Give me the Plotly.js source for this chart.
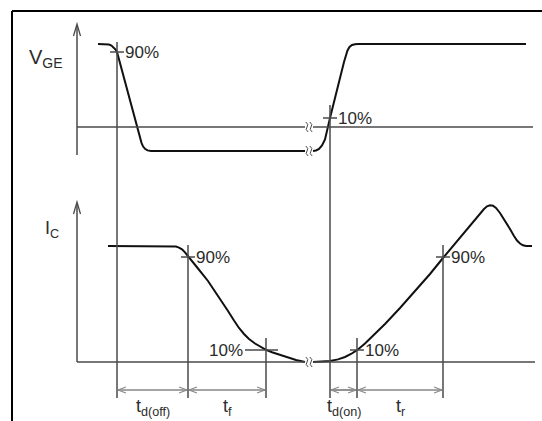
<!DOCTYPE html>
<html>
<head>
<meta charset="utf-8">
<script src="https://cdn.plot.ly/plotly-3.0.1.min.js"></script>
<style>html,body{margin:0;padding:0;background:#fff;}#chart{width:542px;height:421px;}</style>
</head>
<body>
<div id="chart"></div>
<script>
// ---- waveform data (diagram units, y grows downward) ----
const vgeOffX = [98, 106, 109, 111.5, 113.5, 115.3, 117, 138, 140, 141.5, 143, 145, 147.5, 151, 305];
const vgeOffY = [44, 44, 44.5, 45.5, 47.2, 49.3, 52, 130.5, 138, 142.8, 146.3, 148.8, 150.4, 151, 151];
const vgeOnX  = [313, 316, 319, 322, 325, 327.5, 330, 344, 346, 347.5, 349.5, 352, 355, 358, 526];
const vgeOnY  = [151, 150.5, 149, 145.5, 139.5, 130, 118, 62, 55, 50.5, 47, 45, 44.2, 44, 44];
const icOffX  = [108, 172, 176, 179, 182, 185, 188, 198, 208, 218, 228, 234, 239, 244, 249, 255, 261, 266, 272, 280, 288, 296, 305];
const icOffY  = [246, 246, 246.5, 247.6, 249.3, 252.4, 256.3, 268.5, 281, 295.5, 311, 320.5, 328, 334, 339, 343.5, 347, 349.8, 352.2, 355, 357.6, 360, 362];
const icOnX   = [313, 322, 330, 338, 345, 351, 357, 365, 375, 385, 400, 415, 430, 443, 458, 472, 480, 484, 487, 490, 493, 496, 500, 505, 510, 514, 517, 520, 523, 526, 532];
const icOnY   = [362, 361.8, 361, 359.4, 357, 354, 350.2, 343.5, 334, 324, 308, 291.5, 274, 258, 240, 223, 213.5, 209, 206.3, 205.2, 205.8, 208, 213, 220.5, 229, 236, 240.5, 243.5, 245.3, 246, 246];

// reference levels
const vgeLevels = [44, 127, 151];   // high, zero, low
const icLevels  = [246, 362];       // high, zero
const axisLeft  = 77;
const axisRightEnd = 533;
const breakX = [305, 313];

// measurement instants (vertical lines) and their percent marks
const instantX   = [117, 330, 188, 266, 357, 443];
const instantTop = [42, 105, 245, 338, 338, 245];
const pctText    = ['90%', '10%', '90%', '10%', '10%', '90%'];
const pctY       = [52, 118, 257, 350, 350, 257];
const pctSide    = ['right', 'right', 'right', 'left', 'right', 'right'];

// timing intervals
const dimStart  = [117, 188, 330, 357];
const dimEnd    = [188, 266, 357, 443];
const dimLabels = ['t<sub>d(off)</sub>', 't<sub>f</sub>', 't<sub>d(on)</sub>', 't<sub>r</sub>'];
const dimY = 390, instantBottom = 398, dimLabelY = 407;

// ---- build ----
const INK = '#111', GREY = '#4a4a4a', LIGHT = '#8a8a8a', TXT = '#2b2b2b';
const FONT = 'Liberation Sans, Arial, sans-serif';

function wave(x, y) {
  return {x: x, y: y, type: 'scatter', mode: 'lines', hoverinfo: 'skip',
          line: {color: INK, width: 2, shape: 'linear'}};
}
const traces = [wave(vgeOffX, vgeOffY), wave(vgeOnX, vgeOnY), wave(icOffX, icOffY), wave(icOnX, icOnY)];

const shapes = [];
function line(x0, y0, x1, y1, color, w) {
  shapes.push({type: 'line', xref: 'x', yref: 'y', x0: x0, y0: y0, x1: x1, y1: y1,
               line: {color: color, width: w}});
}
function path(d, color, w) {
  shapes.push({type: 'path', xref: 'x', yref: 'y', path: d, line: {color: color, width: w}});
}
// frame
line(12, 11, 542, 11, '#000', 2);
line(12, 11, 12, 421, '#000', 2);
// axes with arrows
line(axisLeft, 155, axisLeft, 25, GREY, 1.5);
path(`M${axisLeft-3.5},36 L${axisLeft},24 L${axisLeft+3.5},36`, GREY, 1.3);
line(axisLeft, icLevels[1], axisLeft, 203, GREY, 1.5);
path(`M${axisLeft-3.5},214 L${axisLeft},202 L${axisLeft+3.5},214`, GREY, 1.3);
// zero lines with break
line(axisLeft, vgeLevels[1], breakX[0], vgeLevels[1], GREY, 1.5);
line(breakX[1], vgeLevels[1], axisRightEnd, vgeLevels[1], GREY, 1.5);
line(axisLeft, icLevels[1], breakX[0], icLevels[1], GREY, 1.5);
line(breakX[1], icLevels[1], 535, icLevels[1], GREY, 1.5);
// break squiggles
function squiggle(cx, cy) {
  [cx - 2, cx + 2].forEach(function (x) {
    path(`M${x-1.2},${cy-5} Q${x+2.2},${cy-2.5} ${x},${cy} Q${x-2.2},${cy+2.5} ${x+1.2},${cy+5}`, GREY, 1);
  });
}
squiggle(309, vgeLevels[1]);
squiggle(309, vgeLevels[2]);
squiggle(309, icLevels[1]);
// instant lines + ticks
const annotations = [];
instantX.forEach(function (x, i) {
  line(x, instantTop[i], x, instantBottom, GREY, 1.5);
  if (pctSide[i] === 'left') {
    line(245, pctY[i], x + 12, pctY[i], GREY, 1.5);
    annotations.push({x: 245, y: pctY[i], text: pctText[i], xanchor: 'right', yanchor: 'middle'});
  } else {
    line(x - 7, pctY[i], x + 7, pctY[i], GREY, 1.5);
    annotations.push({x: x + 6, y: pctY[i], text: pctText[i], xanchor: 'left', yanchor: 'middle'});
  }
});
// dimension arrows
dimStart.forEach(function (x0, i) {
  const x1 = dimEnd[i];
  line(x0, dimY, x1, dimY, GREY, 1.2);
  path(`M${x0+9},${dimY-3} L${x0+1},${dimY} L${x0+9},${dimY+3}`, LIGHT, 1.2);
  path(`M${x1-9},${dimY-3} L${x1-1},${dimY} L${x1-9},${dimY+3}`, LIGHT, 1.2);
  annotations.push({x: (x0 + x1) / 2, y: dimLabelY, text: dimLabels[i], xanchor: 'center', yanchor: 'middle',
                    font: {size: 18, color: TXT, family: FONT}});
});
// signal labels
annotations.push({x: 27, y: 58, text: 'V<sub>GE</sub>', xanchor: 'left', yanchor: 'middle',
                  font: {size: 20, color: TXT, family: FONT}});
annotations.push({x: 43, y: 229, text: 'I<sub>C</sub>', xanchor: 'left', yanchor: 'middle',
                  font: {size: 18, color: TXT, family: FONT}});

annotations.forEach(function (a) {
  a.xref = 'x'; a.yref = 'y'; a.showarrow = false;
  if (!a.font) a.font = {size: 17, color: TXT, family: FONT};
});

const layout = {
  width: 542, height: 421,
  margin: {l: 0, r: 0, t: 0, b: 0},
  paper_bgcolor: '#fff', plot_bgcolor: '#fff',
  showlegend: false,
  xaxis: {range: [0, 542], visible: false, fixedrange: true},
  yaxis: {range: [421, 0], visible: false, fixedrange: true},
  shapes: shapes,
  annotations: annotations
};
Plotly.newPlot('chart', traces, layout, {displayModeBar: false, staticPlot: true});
</script>
</body>
</html>
